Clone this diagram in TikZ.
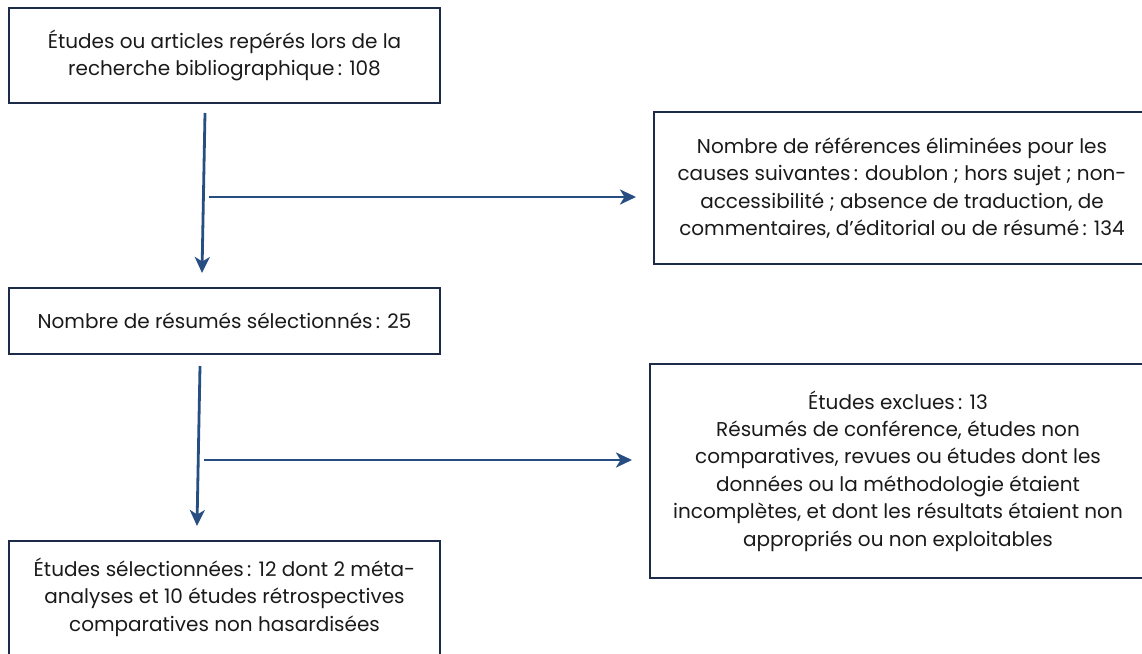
\documentclass[tikz,border=0pt]{standalone}
\usepackage{fontspec}
\setmainfont{Poppins}
\usetikzlibrary{arrows.meta}
\definecolor{boxc}{HTML}{1C2B47}
\definecolor{arrc}{HTML}{274E82}
\definecolor{txt}{HTML}{1A1A1A}
\tikzset{
  box/.style={draw=boxc, line width=1.6pt, rectangle, align=center, text=txt,
    font=\fontsize{20}{27.4}\selectfont, inner sep=0pt},
  conn/.style={draw=arrc, line width=2.8pt, -{Stealth[length=16pt,width=15pt,inset=4.5pt]}}
}
\begin{document}
\begin{tikzpicture}[x=1pt,y=-1pt]
\useasboundingbox (0,0) rectangle (1142,653);
\clip (0,0) rectangle (1142,653);
\node[box, minimum width=431pt, minimum height=95pt, font=\fontsize{20}{26.5}\selectfont] (b1) at (224.5,55.5)
  {Études ou articles repérés lors de la\\recherche bibliographique\,: 108};
\node[box, minimum width=496pt, minimum height=152pt] (b2) at (902,188)
  {Nombre de références éliminées pour les\\causes suivantes\,: doublon ; hors sujet ; non-\\accessibilité ; absence de traduction, de\\commentaires, d’éditorial ou de résumé\,: 134};
\node[box, minimum width=431pt, minimum height=66pt] (b3) at (224.5,321)
  {Nombre de résumés sélectionnés\,: 25};
\node[box, minimum width=496pt, minimum height=214pt] (b4) at (898,471)
  {Études exclues\,: 13\\Résumés de conférence, études non\\comparatives, revues ou études dont les\\données ou la méthodologie étaient\\incomplètes, et dont les résultats étaient non\\appropriés ou non exploitables};
\node[box, minimum width=431pt, minimum height=140pt, anchor=north] (b5) at (224.5,540)
  {};
\node[align=center, text=txt, font=\fontsize{20}{27.5}\selectfont, inner sep=0pt] (t5) at (224.5,597)
  {Études sélectionnées\,: 12 dont 2 méta-\\analyses et 10 études rétrospectives\\comparatives non hasardisées};
\coordinate (v1s) at (205,113);
\coordinate (v1e) at (202,273);
\coordinate (h1s) at (209,197);
\coordinate (h1e) at (636,197);
\coordinate (v2s) at (200,366);
\coordinate (v2e) at (197,526);
\coordinate (h2s) at (204,460);
\coordinate (h2e) at (632,460);
\draw[conn] (v1s) -- (v1e);
\draw[conn] (h1s) -- (h1e);
\draw[conn] (v2s) -- (v2e);
\draw[conn] (h2s) -- (h2e);
\end{tikzpicture}
\end{document}
